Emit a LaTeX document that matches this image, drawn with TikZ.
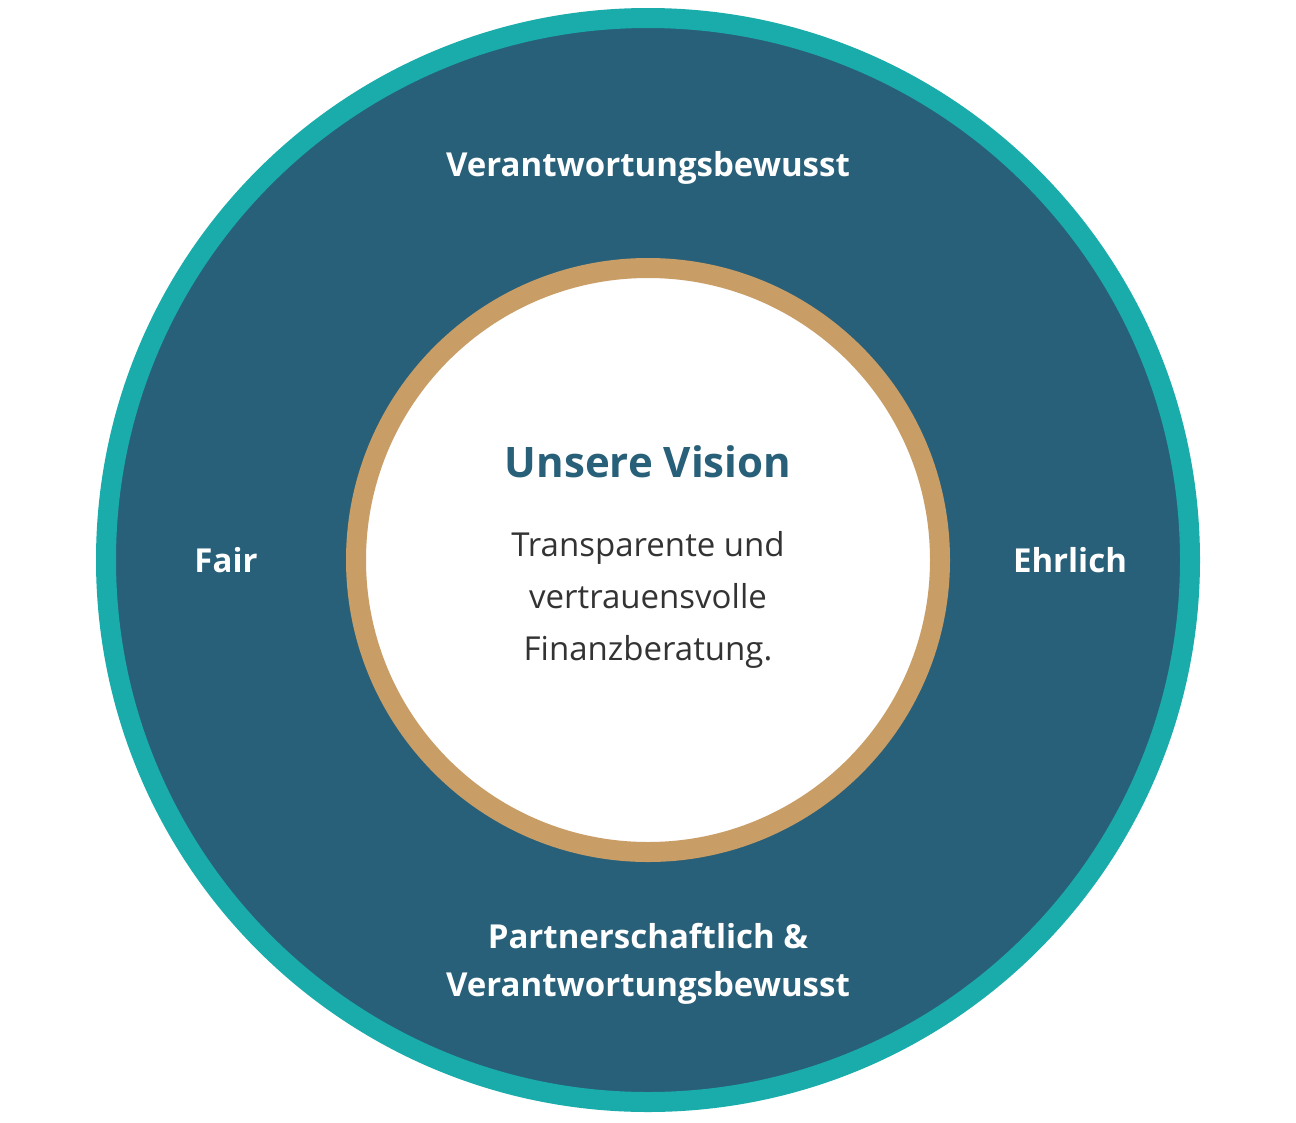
\documentclass[tikz,border=0pt]{standalone}
\usepackage{fontspec}
\setmainfont{Open Sans}
\definecolor{teal}{HTML}{19ACAA}
\definecolor{navy}{HTML}{286079}
\definecolor{gold}{HTML}{C89D66}
\definecolor{txt}{HTML}{333333}
\tikzset{
  lbl/.style={text=white,font=\fontsize{33}{48}\selectfont\bfseries,align=center},
}
\begin{document}
\begin{tikzpicture}[x=1pt,y=-1pt]
\useasboundingbox (0,0) rectangle (1296,1122);
\fill[navy,draw=teal,line width=20pt] (648,560) circle (542);
\fill[white,draw=gold,line width=20pt] (648,560) circle (292);
\node[lbl] (top) at (648,168) {Verantwortungsbewusst};
\node[lbl] (left) at (226,560) {Fair};
\node[lbl] (right) at (1070,560) {Ehrlich};
\node[lbl] (bot) at (648,964) {Partnerschaftlich \&\\Verantwortungsbewusst};
\node[text=navy,font=\fontsize{42}{50}\selectfont\bfseries] (title) at (648,462) {Unsere Vision};
\node[text=txt,font=\fontsize{33}{52}\selectfont,align=center] (body) at (648,600) {Transparente und\\vertrauensvolle\\Finanzberatung.};
\end{tikzpicture}
\end{document}
